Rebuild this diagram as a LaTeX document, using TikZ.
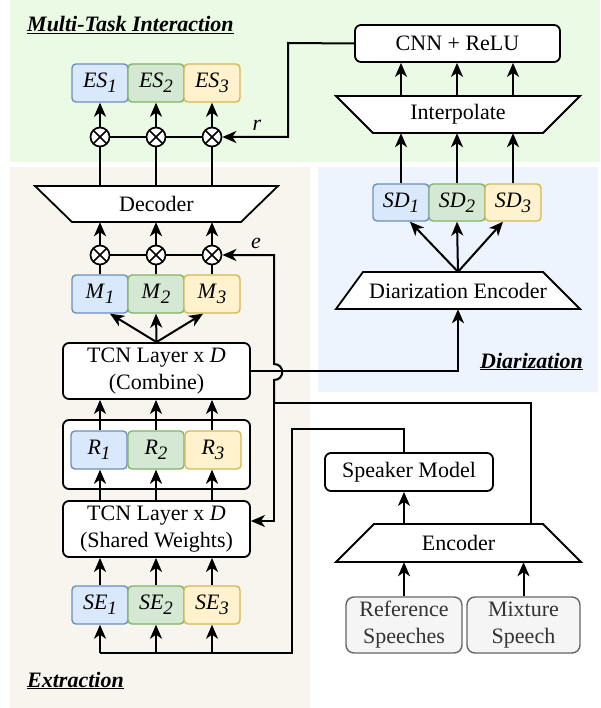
\documentclass[tikz,border=0pt]{standalone}
\usepackage{fontspec}
\setmainfont{Liberation Serif}
\usetikzlibrary{arrows.meta,calc}
\definecolor{bgGreen}{HTML}{EBFAE5}
\definecolor{bgBeige}{HTML}{F7F5EE}
\definecolor{bgBlue}{HTML}{EEF4FD}
\definecolor{cBlueF}{HTML}{DAE8FC}
\definecolor{cBlueD}{HTML}{6C8EBF}
\definecolor{cGreenF}{HTML}{D5E8D4}
\definecolor{cGreenD}{HTML}{82B366}
\definecolor{cYelF}{HTML}{FFF2CC}
\definecolor{cYelD}{HTML}{D6B656}
\definecolor{cGrayF}{HTML}{F5F5F5}
\definecolor{cGrayD}{HTML}{666666}
\definecolor{cGrayT}{HTML}{333333}
\newcommand{\mysub}[1]{\raisebox{-5pt}{\fontsize{19pt}{19pt}\selectfont\textit{#1}}}
\tikzset{
  txt/.style={font=\fontsize{22pt}{27pt}\selectfont, align=center, inner sep=0pt},
  cell/.style={txt, rectangle, rounded corners=4pt, draw, line width=1.4pt, minimum width=56pt, minimum height=38pt},
  cellB/.style={cell, fill=cBlueF, draw=cBlueD},
  cellG/.style={cell, fill=cGreenF, draw=cGreenD},
  cellY/.style={cell, fill=cYelF, draw=cYelD},
  wbox/.style={txt, rectangle, rounded corners=6pt, draw, fill=white, line width=1.8pt},
  gbox/.style={wbox, rounded corners=8pt, line width=1.4pt, fill=cGrayF, draw=cGrayD, text=cGrayT},
  otimesnode/.style={circle, draw, fill=white, line width=1.7pt, minimum size=19pt, inner sep=0pt,
    path picture={\draw[line width=1.7pt] (path picture bounding box.north west) -- (path picture bounding box.south east)
      (path picture bounding box.north east) -- (path picture bounding box.south west);}},
  trapshape/.style={draw, fill=white, line width=1.8pt, line join=miter},
  traptext/.style={txt},
  arr/.style={line width=2pt, -{Stealth[length=14pt,width=12pt,inset=4pt]}},
  ln/.style={line width=2pt},
  sectitle/.style={font=\fontsize{22pt}{27pt}\selectfont\bfseries\itshape, inner sep=0pt},
  lbl/.style={font=\fontsize{22pt}{27pt}\selectfont\itshape, inner sep=0pt},
}
\begin{document}
\begin{tikzpicture}[x=1pt,y=-1pt]
\useasboundingbox (0,0) rectangle (600,708);
% backgrounds
\fill[bgGreen] (10,0) rectangle (600,162);
\fill[bgBeige] (10,167) rectangle (310,708);
\fill[bgBlue] (318,167) rectangle (598,392);

% section titles
\node[sectitle, anchor=base west] (tmulti) at (27,32) {\underline{Multi-Task Interaction}};
\node[sectitle, anchor=base west] (tdiar) at (480,368) {\underline{Diarization}};
\node[sectitle, anchor=base west] (textr) at (27,687) {\underline{Extraction}};

% trapezoids
\draw[trapshape] (35,186) -- (278,186) -- (241,222) -- (72,222) -- cycle;
\node[traptext, minimum width=243pt, minimum height=36pt] (dec) at (156.5,204) {Decoder};
\draw[trapshape] (336,96) -- (580,96) -- (543,133) -- (373,133) -- cycle;
\node[traptext, minimum width=244pt, minimum height=37pt] (interp) at (458,114.5) {Interpolate};
\draw[trapshape] (363,272) -- (543,272) -- (580,309) -- (336,309) -- cycle;
\node[traptext, minimum width=244pt, minimum height=37pt] (denc) at (458,290.5) {Diarization Encoder};
\draw[trapshape] (374,524) -- (543,524) -- (581,562) -- (336,562) -- cycle;
\node[traptext, minimum width=245pt, minimum height=38pt] (enc) at (458.5,543) {Encoder};

% top ES
\node[cellB] (es1) at (100,83) {\textit{ES}\mysub{1}};
\node[cellG] (es2) at (156,83) {\textit{ES}\mysub{2}};
\node[cellY] (es3) at (212,83) {\textit{ES}\mysub{3}};
\node[otimesnode] (to1) at (100,137) {};
\node[otimesnode] (to2) at (156,137) {};
\node[otimesnode] (to3) at (212,137) {};
\node[lbl] (rlab) at (257,125) {r};

% CNN & SD
\node[wbox, minimum width=205pt, minimum height=37pt] (cnn) at (457.5,43.5) {CNN + ReLU};
\node[cellB, minimum height=37pt] (sd1) at (401,202.5) {\textit{SD}\mysub{1}};
\node[cellG, minimum height=37pt] (sd2) at (457,202.5) {\textit{SD}\mysub{2}};
\node[cellY, minimum height=37pt] (sd3) at (513,202.5) {\textit{SD}\mysub{3}};

% extraction
\node[otimesnode] (mo1) at (100,255) {};
\node[otimesnode] (mo2) at (156,255) {};
\node[otimesnode] (mo3) at (212,255) {};
\node[lbl] (elab) at (256,243) {e};
\node[cellB] (m1) at (100,294) {\textit{M}\mysub{1}};
\node[cellG] (m2) at (156,294) {\textit{M}\mysub{2}};
\node[cellY] (m3) at (212,294) {\textit{M}\mysub{3}};
\node[wbox, minimum width=187pt, minimum height=56pt] (tcnc) at (156.5,371) {TCN Layer x \textit{D}\\(Combine)};
\node[wbox, minimum width=187pt, minimum height=69pt] (rgrp) at (156.5,454.5) {};
\node[cellB] (r1) at (99,450) {\textit{R}\mysub{1}};
\node[cellG] (r2) at (156,450) {\textit{R}\mysub{2}};
\node[cellY] (r3) at (213,450) {\textit{R}\mysub{3}};
\node[wbox, minimum width=187pt, minimum height=56pt] (tcns) at (156.5,529) {TCN Layer x \textit{D}\\(Shared Weights)};
\node[cellB] (se1) at (100,605) {\textit{SE}\mysub{1}};
\node[cellG] (se2) at (156,605) {\textit{SE}\mysub{2}};
\node[cellY] (se3) at (212,605) {\textit{SE}\mysub{3}};

% speaker side
\node[wbox, minimum width=168pt, minimum height=38pt] (spk) at (409,472) {Speaker Model};
\node[gbox, minimum width=116pt, minimum height=56pt] (ref) at (404,625) {Reference\\Speeches};
\node[gbox, minimum width=113pt, minimum height=56pt] (mix) at (523.5,625) {Mixture\\Speech};

% coordinates
\coordinate (rc) at (288,43);
\coordinate (ej) at (274,403);
\coordinate (eturn) at (531,403);
\coordinate (hopA) at (274,380);
\coordinate (hopB) at (274,364);
\coordinate (s1) at (404,429);
\coordinate (s2) at (292,429);
\coordinate (s3) at (292,653);

% --- connectors
\foreach \i in {1,2,3} {
  \draw[arr] (to\i) -- (es\i);
  \draw[ln] (dec.north -| to\i) -- (to\i);
  \draw[arr] (mo\i) -- (dec.south -| mo\i);
  \draw[ln] (m\i) -- (mo\i);
  \draw[arr] (r\i.north -| se\i) -- (tcnc.south -| se\i);
  \draw[arr] (tcns.north -| se\i) -- (r\i.south -| se\i);
  \draw[arr] (se\i) -- (tcns.south -| se\i);
  \draw[arr] (s3 -| se\i) -- (se\i);
  \draw[arr] (sd\i) -- (interp.south -| sd\i);
  \draw[arr] (interp.north -| sd\i) -- (cnn.south -| sd\i);
}
\draw[ln] (to1) -- (to2);
\draw[ln] (to2) -- (to3);
\draw[ln] (mo1) -- (mo2);
\draw[ln] (mo2) -- (mo3);
\draw[arr] (cnn.west) -- (rc) |- (to3);

% fans
\draw[arr] (tcnc.north) -- ([xshift=10pt]m1.south);
\draw[arr] (tcnc.north) -- (m2.south);
\draw[arr] (tcnc.north) -- ([xshift=-9pt]m3.south);
\draw[arr] (denc.north) -- ([xshift=9pt]sd1.south);
\draw[arr] (denc.north) -- (sd2.south);
\draw[arr] (denc.north) -- ([xshift=-10pt]sd3.south);

% combine -> diarization encoder
\draw[arr] (tcnc.east) -| (denc.south);

% encoder mixture output e
\draw[ln] (enc.north -| eturn) -- (eturn) -- (ej);
\draw[arr] (ej) -- (hopA) .. controls +(11,0) and +(11,0) .. (hopB) |- (mo3);
\draw[arr] (ej) |- ([yshift=8pt]tcns.east);

% speaker model path
\draw[arr] (enc.north -| s1) -- (spk.south -| s1);
\draw[ln] (spk.north -| s1) -- (s1) -- (s2) -- (s3) -- (s3 -| se1);

% inputs
\draw[arr] (ref) -- (enc.south -| ref);
\draw[arr] (mix) -- (enc.south -| mix);
\end{tikzpicture}
\end{document}
